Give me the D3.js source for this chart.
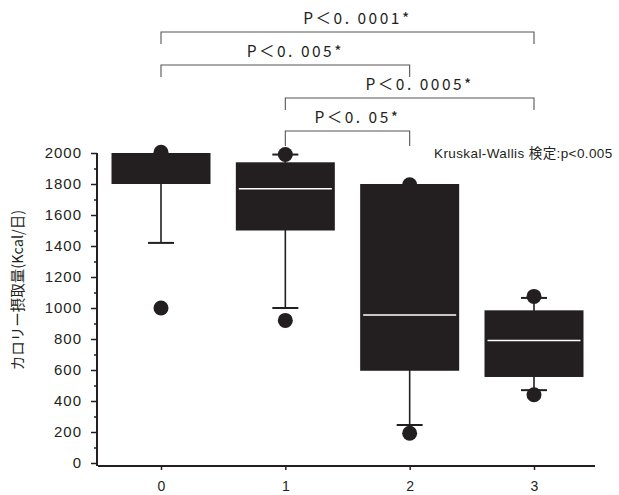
<!DOCTYPE html>
<html>
<head>
<meta charset="utf-8">
<script src="https://cdn.jsdelivr.net/npm/d3@7"></script>
<style>
  body { margin: 0; background: #fff; }
  svg { display: block; }
  text { fill: #231f20; }
</style>
</head>
<body>
<div id="chart"></div>
<script>
var groups = ['0', '1', '2', '3'];
var q1 = [1800, 1500, 595, 555];
var median = [2000, 1770, 955, 790];
var q3 = [2000, 1940, 1800, 985];
var whiskLow = [1420, 1000, 245, 470];
var whiskHigh = [2000, 1990, 1800, 1065];
var outliers = [[2005, 1000], [1990, 920], [1795, 192], [1075, 440]];
var yTicks = [0, 200, 400, 600, 800, 1000, 1200, 1400, 1600, 1800, 2000];
var pairs = [
  { a: 0, b: 3, label: 'P＜0. 0001*' },
  { a: 0, b: 2, label: 'P＜0. 005*' },
  { a: 1, b: 3, label: 'P＜0. 0005*' },
  { a: 1, b: 2, label: 'P＜0. 05*' }
];
var yTitle = 'カロリー摂取量(Kcal/日)';
var testNote = 'Kruskal-Wallis 検定:p<0.005';

var W = 619, H = 495,
    dark = '#231f20',
    font = '"Liberation Sans", Arial, "Noto Sans CJK JP", sans-serif',
    jfont = '"Noto Sans CJK JP", sans-serif';

var svg = d3.select('#chart').append('svg')
    .attr('width', W).attr('height', H);

var x = d3.scalePoint().domain(groups).range([161, 534]);
var y = d3.scaleLinear().domain([0, 2000]).range([463, 153]);
var boxW = 99, capW = 26;

// y axis
var yAxis = svg.append('g').attr('transform', 'translate(97,0)');
yAxis.call(d3.axisLeft(y).tickValues(d3.range(0, 2001, 100)).tickSize(3).tickFormat(''));
yAxis.selectAll('.tick line').attr('stroke', dark).attr('stroke-width', 1.5)
    .attr('x2', function(d) { return d % 200 === 0 ? -6 : -3; });
yAxis.select('.domain').attr('stroke', dark).attr('stroke-width', 2)
    .attr('d', 'M0,' + y(2000) + 'V' + (y(0) + 3));
yAxis.selectAll('text.lab').data(yTicks).enter().append('text')
    .attr('class', 'lab')
    .attr('x', -15).attr('y', function(d) { return y(d); })
    .attr('dy', '0.36em')
    .attr('text-anchor', 'end')
    .style('font-family', font).style('font-size', '15px')
    .style('letter-spacing', '1px')
    .text(function(d) { return d; });

// x axis
var xAxis = svg.append('g').attr('transform', 'translate(0,466)');
xAxis.call(d3.axisBottom(x).tickSize(4).tickPadding(11));
xAxis.select('.domain').attr('stroke', dark).attr('stroke-width', 2)
    .attr('d', 'M98,0H595');
xAxis.selectAll('.tick line').attr('stroke', dark).attr('stroke-width', 1.5);
xAxis.selectAll('.tick text').attr('fill', dark)
    .style('font-family', font).style('font-size', '14px');

// y title
svg.append('text')
    .attr('transform', 'translate(23,' + 290 + ') rotate(-90)')
    .attr('text-anchor', 'middle')
    .style('font-family', jfont).style('font-size', '14.5px')
    .text(yTitle);

// boxes
var data = groups.map(function(g, i) {
  return { g: g, q1: q1[i], med: median[i], q3: q3[i], lo: whiskLow[i], hi: whiskHigh[i], out: outliers[i] };
});

var box = svg.selectAll('g.box').data(data).enter().append('g').attr('class', 'box');

box.append('line')
    .attr('x1', function(d) { return x(d.g); }).attr('x2', function(d) { return x(d.g); })
    .attr('y1', function(d) { return y(d.lo); }).attr('y2', function(d) { return y(d.hi); })
    .attr('stroke', dark).attr('stroke-width', 1.6);

box.filter(function(d) { return d.lo < d.q1; }).append('line')
    .attr('x1', function(d) { return x(d.g) - capW / 2; }).attr('x2', function(d) { return x(d.g) + capW / 2; })
    .attr('y1', function(d) { return y(d.lo); }).attr('y2', function(d) { return y(d.lo); })
    .attr('stroke', dark).attr('stroke-width', 2);

box.filter(function(d) { return d.hi > d.q3; }).append('line')
    .attr('x1', function(d) { return x(d.g) - capW / 2; }).attr('x2', function(d) { return x(d.g) + capW / 2; })
    .attr('y1', function(d) { return y(d.hi); }).attr('y2', function(d) { return y(d.hi); })
    .attr('stroke', dark).attr('stroke-width', 2);

box.append('rect')
    .attr('x', function(d) { return x(d.g) - boxW / 2; })
    .attr('y', function(d) { return y(d.q3); })
    .attr('width', boxW)
    .attr('height', function(d) { return y(d.q1) - y(d.q3); })
    .attr('fill', dark);

box.filter(function(d) { return d.med < d.q3; }).append('line')
    .attr('x1', function(d) { return x(d.g) - boxW / 2 + 3; }).attr('x2', function(d) { return x(d.g) + boxW / 2 - 3; })
    .attr('y1', function(d) { return y(d.med); }).attr('y2', function(d) { return y(d.med); })
    .attr('stroke', '#fff').attr('stroke-width', 1.5);

box.selectAll('circle').data(function(d) { return d.out.map(function(v) { return { g: d.g, v: v }; }); })
  .enter().append('circle')
    .attr('cx', function(d) { return x(d.g); })
    .attr('cy', function(d) { return y(d.v); })
    .attr('r', 7.5)
    .attr('fill', dark);

// significance brackets
var br = svg.selectAll('g.br').data(pairs).enter().append('g').attr('class', 'br');
br.append('path')
    .attr('d', function(d, i) {
      var x1 = x(groups[d.a]), x2 = x(groups[d.b]), yy = 32 + i * 33, leg = i === 3 ? 15 : 12;
      return 'M' + x1 + ',' + (yy + leg) + 'V' + yy + 'H' + x2 + 'V' + (yy + leg);
    })
    .attr('fill', 'none').attr('stroke', '#555').attr('stroke-width', 1.1);
br.append('text')
    .attr('x', function(d) { return (x(groups[d.a]) + x(groups[d.b])) / 2 + 10; })
    .attr('y', function(d, i) { return 32 + i * 33 - 8; })
    .attr('text-anchor', 'middle')
    .style('font-family', jfont).style('font-size', '15.5px')
    .style('letter-spacing', '2.5px')
    .text(function(d) { return d.label; });

svg.append('text')
    .attr('x', 434).attr('y', 158)
    .style('font-family', font).style('font-size', '13.5px')
    .style('letter-spacing', '0.4px')
    .text(testNote);
</script>
</body>
</html>
